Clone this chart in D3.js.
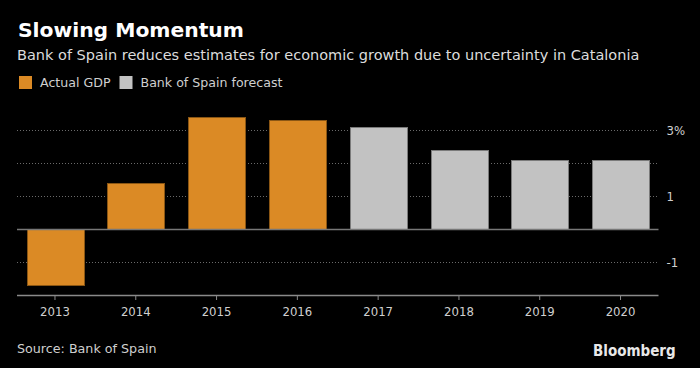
<!DOCTYPE html>
<html>
<head>
<meta charset="utf-8">
<script src="https://cdn.jsdelivr.net/npm/d3@7"></script>
<style>
html,body{margin:0;padding:0;background:#000;}
svg{display:block;}
</style>
</head>
<body>
<svg id="chart" width="700" height="368"></svg>
<script>
const years = ["2013","2014","2015","2016","2017","2018","2019","2020"];
const gdpValues = [-1.7, 1.4, 3.4, 3.3, 3.1, 2.4, 2.1, 2.1];
const seriesType = ["actual","actual","actual","actual","forecast","forecast","forecast","forecast"];
const seriesNames = ["Actual GDP","Bank of Spain forecast"];
const gridValues = [-1, 1, 2, 3];
const yTickValues = [-1, 1, 3];

const colors = {actual:"#DB8A25", forecast:"#C2C2C2"};
const strokes = {actual:"#8a5614", forecast:"#7a7a7a"};

const svg = d3.select("#chart");
svg.append("rect").attr("width",700).attr("height",368).attr("fill","#000");

const left = 17, right = 658.5;
const x = d3.scaleBand().domain(years).range([left, right]).paddingInner(0.3).paddingOuter(0.12);
const y = d3.scaleLinear().domain([-2, 3.5]).range([295, 113.5]);

const condensed = "'DejaVu Sans Condensed', 'DejaVu Sans', sans-serif";
const regular = "'DejaVu Sans', sans-serif";

// Title
svg.append("text").attr("x",18).attr("y",36.5)
  .attr("font-family",regular).attr("font-weight","bold")
  .attr("font-size",20.3).attr("fill","#ffffff").text("Slowing Momentum");
svg.append("text").attr("x",17).attr("y",59.5)
  .attr("font-family",regular).attr("font-size",14.5).attr("fill","#dcdcdc")
  .text("Bank of Spain reduces estimates for economic growth due to uncertainty in Catalonia");

// Legend
const legendX = [19, 119.5];
const legendKeys = ["actual","forecast"];
legendKeys.forEach((k,i)=>{
  svg.append("rect").attr("x",legendX[i]).attr("y",76).attr("width",13).attr("height",13)
    .attr("fill",colors[k]);
  svg.append("text").attr("x",legendX[i]+21).attr("y",86.5)
    .attr("font-family",regular).attr("font-size",12.6).attr("fill","#cfcfcf")
    .text(seriesNames[i]);
});

// Gridlines
svg.append("g").selectAll("line").data(gridValues).join("line")
  .attr("x1",left).attr("x2",right)
  .attr("y1",d=>Math.round(y(d))+0.5).attr("y2",d=>Math.round(y(d))+0.5)
  .attr("stroke","#6a6a6a").attr("stroke-width",1).attr("stroke-dasharray","1,2");

// Bars
svg.append("g").selectAll("rect").data(years).join("rect")
  .attr("x",d=>Math.round(x(d))+0.5)
  .attr("width",Math.round(x.bandwidth()))
  .attr("y",(d,i)=>Math.round(y(Math.max(0,gdpValues[i])))+0.5)
  .attr("height",(d,i)=>Math.round(Math.abs(y(gdpValues[i])-y(0))))
  .attr("fill",(d,i)=>colors[seriesType[i]])
  .attr("stroke",(d,i)=>strokes[seriesType[i]]).attr("stroke-width",1);

// Zero line
svg.append("line").attr("x1",left).attr("x2",right)
  .attr("y1",Math.round(y(0))+0.5).attr("y2",Math.round(y(0))+0.5)
  .attr("stroke","#777").attr("stroke-width",1.5);

// Y axis labels (right)
svg.append("g").selectAll("text").data(yTickValues).join("text")
  .attr("x",666.5).attr("y",d=>y(d)+5)
  .attr("font-family",condensed).attr("font-size",13).attr("fill","#cfcfcf")
  .text(d=> d===3 ? "3%" : String(d));

// X axis
const xAxis = d3.axisBottom(x).tickSize(5).tickSizeOuter(0).tickPadding(7);
const gx = svg.append("g").attr("transform","translate(0,295)").call(xAxis);
gx.select(".domain").attr("stroke","#8a8a8a").attr("stroke-width",1.5)
  .attr("d",`M${left},0.5H${right}`);
gx.selectAll(".tick line").attr("stroke","#8a8a8a");
gx.selectAll(".tick text").attr("font-family",condensed).attr("font-size",13).attr("fill","#cfcfcf");

// Footer
svg.append("text").attr("x",17).attr("y",352.7)
  .attr("font-family",regular).attr("font-size",12.7).attr("fill","#cfcfcf")
  .text("Source: Bank of Spain");
svg.append("text").attr("x",593).attr("y",355.5)
  .attr("font-family",condensed).attr("font-weight","bold").attr("font-size",15)
  .attr("fill","#e8e8e8").text("Bloomberg");
</script>
</body>
</html>
